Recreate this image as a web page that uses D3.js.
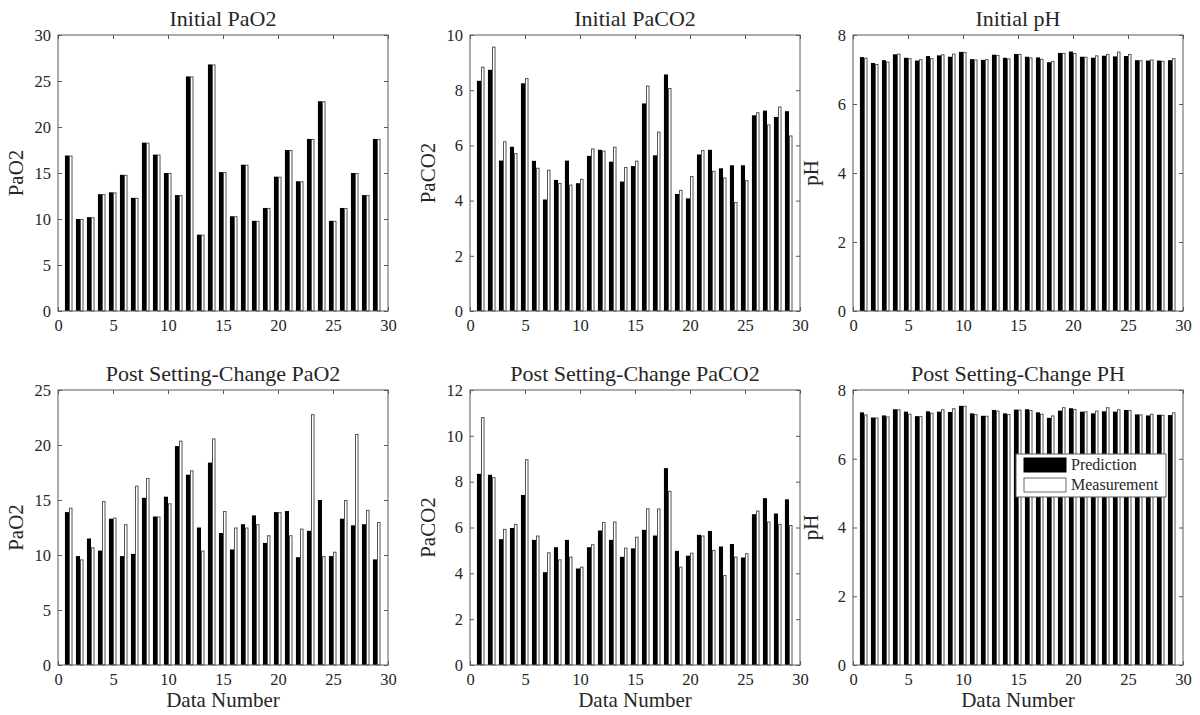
<!DOCTYPE html>
<html>
<head>
<meta charset="utf-8">
<script src="https://cdn.jsdelivr.net/npm/d3@7"></script>
<style>
  body { margin: 0; background: #fff; }
  svg { display: block; }
  text { font-family: "Liberation Serif", "Times New Roman", serif; fill: #262626; }
</style>
</head>
<body>
<div id="chart"></div>
<script>
// data numbers (x categories)
const dataNumbers = [1,2,3,4,5,6,7,8,9,10,11,12,13,14,15,16,17,18,19,20,21,22,23,24,25,26,27,28,29];
const xTicks = [0, 5, 10, 15, 20, 25, 30];

// Initial PaO2
const initPaO2Pred = [16.9,10.0,10.2,12.7,12.9,14.8,12.3,18.3,17.0,15.0,12.6,25.5,8.3,26.8,15.1,10.3,15.9,9.8,11.2,14.6,17.5,14.1,18.7,22.8,9.8,11.2,15.0,12.6,18.7];
const initPaO2Meas = [16.9,10.0,10.2,12.7,12.9,14.8,12.3,18.3,17.0,15.0,12.6,25.5,8.3,26.8,15.1,10.3,15.9,9.8,11.2,14.6,17.5,14.1,18.7,22.8,9.8,11.2,15.0,12.6,18.7];

// Initial PaCO2
const initPaCO2Pred = [8.34,8.74,5.45,5.95,8.25,5.44,4.04,4.75,5.45,4.63,5.62,5.84,5.41,4.69,5.25,7.52,5.64,8.57,4.24,4.08,5.67,5.84,5.17,5.28,5.28,7.09,7.26,7.03,7.24];
const initPaCO2Meas = [8.85,9.58,6.15,5.72,8.44,5.19,5.12,4.64,4.58,4.79,5.89,5.81,5.95,5.22,5.45,8.17,6.50,8.08,4.39,4.89,5.83,5.08,4.84,3.95,4.74,7.20,6.76,7.41,6.36];

// Initial pH
const initPHPred = [7.36,7.19,7.27,7.44,7.34,7.26,7.39,7.41,7.37,7.51,7.30,7.28,7.43,7.34,7.45,7.37,7.35,7.21,7.48,7.52,7.37,7.34,7.40,7.38,7.39,7.27,7.26,7.26,7.27];
const initPHMeas = [7.34,7.16,7.23,7.46,7.33,7.30,7.33,7.44,7.46,7.51,7.29,7.30,7.42,7.32,7.45,7.35,7.31,7.25,7.48,7.48,7.37,7.41,7.45,7.52,7.45,7.27,7.29,7.25,7.33];

// Post setting-change PaO2
const postPaO2Pred = [13.9,9.9,11.5,10.4,13.3,9.9,10.1,15.2,13.5,15.3,19.9,17.3,12.5,18.4,12.0,10.5,12.8,13.6,11.1,13.9,14.0,9.8,12.2,15.0,9.9,13.3,12.7,12.8,9.6];
const postPaO2Meas = [14.3,9.6,10.7,14.9,13.4,12.8,16.3,17.0,13.5,14.7,20.4,17.7,10.4,20.6,14.0,12.5,12.5,12.8,11.8,13.9,11.8,12.4,22.8,9.9,10.3,15.0,21.0,14.1,13.0];

// Post setting-change PaCO2
const postPaCO2Pred = [8.34,8.30,5.49,5.98,7.42,5.46,4.05,5.14,5.46,4.21,5.14,5.87,5.46,4.72,5.09,5.90,5.65,8.59,4.98,4.77,5.68,5.85,5.17,5.28,4.69,6.58,7.28,6.61,7.23];
const postPaCO2Meas = [10.82,8.20,5.94,6.16,8.98,5.65,4.92,4.61,4.73,4.29,5.27,6.24,6.26,5.12,5.60,6.84,6.83,7.60,4.29,4.90,5.65,5.02,3.93,4.73,4.88,6.74,6.26,6.16,6.11];

// Post setting-change pH
const postPHPred = [7.35,7.20,7.26,7.44,7.37,7.24,7.38,7.37,7.36,7.54,7.32,7.25,7.42,7.32,7.43,7.44,7.35,7.19,7.40,7.47,7.37,7.32,7.38,7.37,7.42,7.29,7.26,7.28,7.27];
const postPHMeas = [7.29,7.20,7.23,7.44,7.31,7.24,7.34,7.44,7.47,7.54,7.30,7.25,7.40,7.30,7.43,7.42,7.31,7.26,7.50,7.45,7.38,7.40,7.50,7.44,7.42,7.29,7.31,7.28,7.35];

const seriesNames = ["Prediction", "Measurement"];

const width = 1200, height = 715;
const svg = d3.select("#chart").append("svg")
  .attr("width", width)
  .attr("height", height);

const cols = [[58, 388], [470, 800], [853, 1183]];
const rows = [[35, 311], [390, 665]];

const panels = [
  { title: "Initial PaO2", ylabel: "PaO2", pred: initPaO2Pred, meas: initPaO2Meas, yMax: 30, yStep: 5, col: 0, row: 0 },
  { title: "Initial PaCO2", ylabel: "PaCO2", pred: initPaCO2Pred, meas: initPaCO2Meas, yMax: 10, yStep: 2, col: 1, row: 0 },
  { title: "Initial pH", ylabel: "pH", pred: initPHPred, meas: initPHMeas, yMax: 8, yStep: 2, col: 2, row: 0 },
  { title: "Post Setting-Change PaO2", ylabel: "PaO2", pred: postPaO2Pred, meas: postPaO2Meas, yMax: 25, yStep: 5, col: 0, row: 1, xlabel: "Data Number" },
  { title: "Post Setting-Change PaCO2", ylabel: "PaCO2", pred: postPaCO2Pred, meas: postPaCO2Meas, yMax: 12, yStep: 2, col: 1, row: 1, xlabel: "Data Number" },
  { title: "Post Setting-Change PH", ylabel: "pH", pred: postPHPred, meas: postPHMeas, yMax: 8, yStep: 2, col: 2, row: 1, xlabel: "Data Number", legend: true }
];

const axisColor = "#5a5a5a";

panels.forEach(p => {
  const [x0, x1] = cols[p.col];
  const [y0, y1] = rows[p.row];

  const x = d3.scaleLinear().domain([0, 30]).range([x0, x1]);
  const y = d3.scaleLinear().domain([0, p.yMax]).range([y1, y0]);
  const yTicks = d3.range(0, p.yMax + 0.001, p.yStep);

  const g = svg.append("g").attr("class", "panel");

  // bars: black prediction on the left, white measurement on the right
  const bwP = 0.37, bwM = 0.32;
  g.append("g").selectAll("rect")
    .data(p.pred)
    .join("rect")
    .attr("x", (d, i) => x(dataNumbers[i] - bwP))
    .attr("y", d => y(d))
    .attr("width", x(bwP) - x(0))
    .attr("height", d => y(0) - y(d))
    .attr("fill", "#000");

  g.append("g").selectAll("rect")
    .data(p.meas)
    .join("rect")
    .attr("x", (d, i) => x(dataNumbers[i]) + 0.5)
    .attr("y", d => y(d) + 0.5)
    .attr("width", x(bwM) - x(0) - 1)
    .attr("height", d => y(0) - y(d) - 0.5)
    .attr("fill", "#fff")
    .attr("stroke", "#555")
    .attr("stroke-width", 1);

  // axes (box with inward ticks on all sides)
  const tl = 4;
  g.append("g")
    .attr("transform", `translate(0,${y1})`)
    .call(d3.axisBottom(x).tickValues(xTicks).tickSize(-tl).tickPadding(8))
    .call(a => a.select(".domain").remove())
    .call(a => a.selectAll("line").attr("stroke", axisColor))
    .call(a => a.selectAll("text").attr("font-size", 16.5).attr("fill", "#262626")
      .style("font-family", "'Liberation Serif', serif"));

  g.append("g")
    .attr("transform", `translate(0,${y0})`)
    .call(d3.axisTop(x).tickValues(xTicks).tickSize(-tl).tickFormat(""))
    .call(a => a.select(".domain").remove())
    .call(a => a.selectAll("line").attr("stroke", axisColor));

  g.append("g")
    .attr("transform", `translate(${x0},0)`)
    .call(d3.axisLeft(y).tickValues(yTicks).tickSize(-tl).tickPadding(7))
    .call(a => a.select(".domain").remove())
    .call(a => a.selectAll("line").attr("stroke", axisColor))
    .call(a => a.selectAll("text").attr("font-size", 16.5).attr("fill", "#262626")
      .style("font-family", "'Liberation Serif', serif"));

  g.append("g")
    .attr("transform", `translate(${x1},0)`)
    .call(d3.axisRight(y).tickValues(yTicks).tickSize(-tl).tickFormat(""))
    .call(a => a.select(".domain").remove())
    .call(a => a.selectAll("line").attr("stroke", axisColor));

  g.append("rect")
    .attr("x", x0).attr("y", y0)
    .attr("width", x1 - x0).attr("height", y1 - y0)
    .attr("fill", "none")
    .attr("stroke", axisColor)
    .attr("stroke-width", 1);

  // title
  g.append("text")
    .attr("x", (x0 + x1) / 2)
    .attr("y", y0 - 9)
    .attr("text-anchor", "middle")
    .attr("font-size", 22)
    .text(p.title);

  // y label
  g.append("text")
    .attr("transform", `translate(${x0 - 35},${(y0 + y1) / 2}) rotate(-90)`)
    .attr("text-anchor", "middle")
    .attr("font-size", 21)
    .text(p.ylabel);

  if (p.xlabel) {
    g.append("text")
      .attr("x", (x0 + x1) / 2)
      .attr("y", y1 + 42)
      .attr("text-anchor", "middle")
      .attr("font-size", 21)
      .text(p.xlabel);
  }

  if (p.legend) {
    const lx = 1016, ly = 454;
    const lg = g.append("g").attr("class", "legend");
    lg.append("rect")
      .attr("x", lx).attr("y", ly)
      .attr("width", 150).attr("height", 43)
      .attr("fill", "#fff")
      .attr("stroke", axisColor);
    seriesNames.forEach((name, i) => {
      lg.append("rect")
        .attr("x", lx + 8).attr("y", ly + 4 + i * 20)
        .attr("width", 42).attr("height", 14)
        .attr("fill", i === 0 ? "#000" : "#fff")
        .attr("stroke", i === 0 ? "#000" : "#6a6a6a");
      lg.append("text")
        .attr("x", lx + 55).attr("y", ly + 16 + i * 20)
        .attr("font-size", 16)
        .text(name);
    });
  }
});
</script>
</body>
</html>
